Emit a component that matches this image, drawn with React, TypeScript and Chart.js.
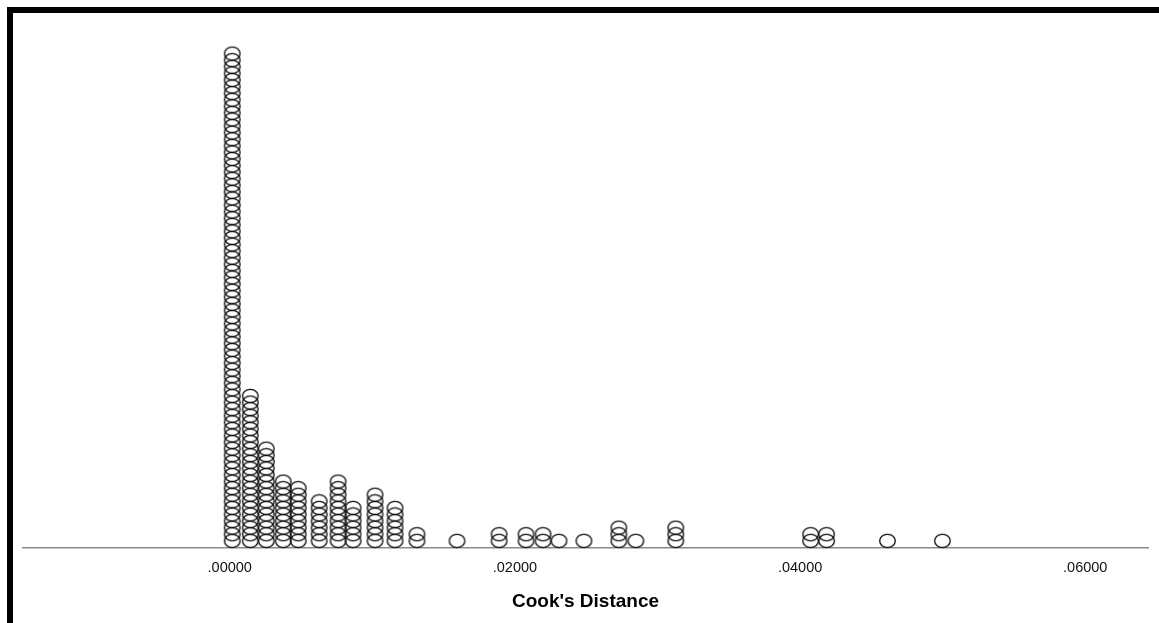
import React, { useEffect, useRef } from "react";
import { Chart, registerables } from "chart.js";

Chart.register(...registerables);

// Cook's Distance value of each dot column
const cookValues: number[] = [
  0.000175, 0.00144, 0.00256, 0.00375, 0.0048, 0.00627, 0.0076, 0.00865,
  0.01019, 0.01159, 0.01313, 0.01594, 0.01889, 0.02078, 0.02197, 0.02309,
  0.02484, 0.02729, 0.02848, 0.03128, 0.04074, 0.04186, 0.04613, 0.04998,
];
// number of stacked dots in each column
const dotCounts: number[] = [
  75, 23, 15, 10, 9, 7, 10, 6, 8, 6, 2, 1, 2, 2, 2, 1, 1, 3, 1, 3, 2, 2, 1, 1,
];
const tickValues: number[] = [0, 0.02, 0.04, 0.06];
const axisTitle = "Cook's Distance";

function makeRing(): HTMLCanvasElement {
  const c = document.createElement("canvas");
  c.width = 19;
  c.height = 16;
  const g = c.getContext("2d")!;
  g.strokeStyle = "#111";
  g.lineWidth = 1.35;
  g.beginPath();
  g.ellipse(9.5, 8, 7.8, 6.6, 0, 0, Math.PI * 2);
  g.stroke();
  return c;
}

export default function App() {
  const ref = useRef<HTMLCanvasElement>(null);
  useEffect(() => {
    if (!ref.current) return;
    const points: { x: number; y: number }[] = [];
    cookValues.forEach((v, i) => {
      for (let k = 0; k < dotCounts[i]; k++) points.push({ x: v, y: k });
    });
    const ring = makeRing();
    const chart = new Chart(ref.current, {
      type: "scatter",
      data: {
        datasets: [
          {
            data: points,
            pointStyle: ring as any,
            pointRadius: 8,
            clip: false as any,
          },
        ],
      },
      options: {
        animation: false,
        responsive: true,
        maintainAspectRatio: false,
        layout: { padding: { left: 10, right: 11, top: 7, bottom: 6 } },
        plugins: { legend: { display: false }, tooltip: { enabled: false } },
        scales: {
          x: {
            type: "linear",
            min: -0.0145,
            max: 0.0644,
            afterBuildTicks: (s: any) => {
              s.ticks = tickValues.map((v) => ({ value: v }));
            },
            grid: { display: false, drawTicks: false },
            border: { display: true, color: "#8a8a8a", width: 1.5 },
            ticks: {
              padding: 11,
              color: "#111",
              font: { family: "Liberation Sans, Arial, sans-serif", size: 14.5 },
              callback: (v: any) => Number(v).toFixed(5).replace(/^0/, ""),
            },
            title: {
              display: true,
              text: axisTitle,
              color: "#000",
              padding: { top: 3, bottom: 4 },
              font: { family: "Liberation Sans, Arial, sans-serif", size: 19, weight: "bold" },
            },
          },
          y: {
            display: false,
            min: -1.06,
            max: 78.8,
          },
        },
      },
    });
    return () => chart.destroy();
  }, []);
  return (
    <div
      style={{
        position: "absolute",
        left: 7,
        top: 7,
        width: 1152,
        height: 616,
        borderLeft: "6px solid #000",
        borderTop: "6px solid #000",
        background: "#fff",
      }}
    >
      <div style={{ position: "relative", width: 1146, height: 610 }}>
        <canvas ref={ref} />
      </div>
    </div>
  );
}
